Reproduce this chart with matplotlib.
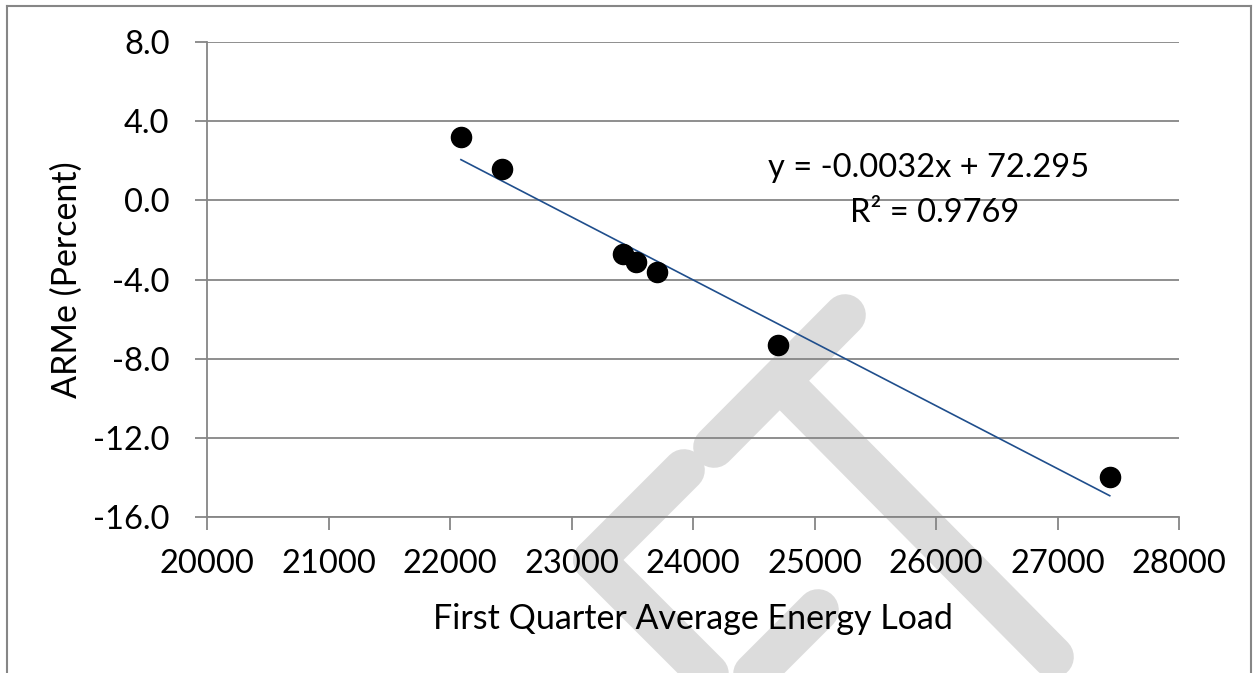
import numpy as np
import matplotlib
matplotlib.use("Agg")
import matplotlib.pyplot as plt
from matplotlib.lines import Line2D
from matplotlib.ticker import FormatStrFormatter, MultipleLocator

plt.rcParams['font.family'] = ['Lato', 'DejaVu Sans']
plt.rcParams['axes.unicode_minus'] = False

# donnees
charge = [22090, 22430, 23420, 23530, 23700, 24700, 27430]
arme = [3.2, 1.6, -2.7, -3.1, -3.6, -7.3, -14.0]
texte_eq = "y = -0.0032x + 72.295"
texte_r2 = "R² = 0.9769"
titre_x = "First Quarter Average Energy Load"
titre_y = "ARMe (Percent)"

W, H = 1257, 673
gris = '#868686'

fig = plt.figure(figsize=(W / 100, H / 100), dpi=100)
ax = fig.add_axes([207 / W, 1 - 517 / H, (1179 - 207) / W, (517 - 42) / H])
ax.set_facecolor('none')

# pixels -> fraction de figure
def px(x, y):
    return x / W, 1 - y / H

# filigrane (ET en biais)
traits = [
    [(714, 447), (845, 315)],
    [(780, 381), (1053, 657)],
    [(684, 470), (594, 560)],
    [(594, 560), (745, 711)],
    [(818, 610), (750, 678)],
]
for t in traits:
    (x0, y0), (x1, y1) = px(*t[0]), px(*t[1])
    fig.add_artist(Line2D([x0, x1], [y0, y1], transform=fig.transFigure,
                          color='#dcdcdc', lw=30, solid_capstyle='round',
                          zorder=-5))

# cadre du graphique
for (a, b) in [((7, 700), (7, 6)), ((7, 6), (1251, 6)), ((1251, 6), (1251, 700))]:
    (x0, y0), (x1, y1) = px(*a), px(*b)
    fig.add_artist(Line2D([x0, x1], [y0, y1], transform=fig.transFigure,
                          color=gris, lw=1.5, zorder=-4))

# points et droite de tendance
ax.plot(charge, arme, 'o', color='black', markersize=14.5, zorder=4)
a, b = np.polyfit(charge, arme, 1)
xt = np.array([min(charge), max(charge)])
ax.plot(xt, a * xt + b, color='#1f4e8c', lw=1.2, zorder=3)

fig.text(*px(929, 168), texte_eq, ha='center', va='center', fontsize=23.5)
fig.text(*px(935, 213), texte_r2, ha='center', va='center', fontsize=23.5)

ax.set_xlim(20000, 28000)
ax.set_ylim(-16, 8)
ax.xaxis.set_major_locator(MultipleLocator(1000))
ax.yaxis.set_major_locator(MultipleLocator(4))
ax.yaxis.set_major_formatter(FormatStrFormatter('%.1f'))
ax.grid(axis='y', color=gris, lw=1.3, zorder=1)
ax.set_axisbelow(True)

for s in ['top', 'right']:
    ax.spines[s].set_visible(False)
for s in ['left', 'bottom']:
    ax.spines[s].set_color(gris)
    ax.spines[s].set_linewidth(1.3)

ax.tick_params(axis='both', direction='out', length=9, width=1.3, color=gris,
               labelsize=23.5)
ax.tick_params(axis='y', pad=18)
ax.tick_params(axis='x', pad=14)
ax.set_xlabel(titre_x, fontsize=24.5, labelpad=17)
ax.set_ylabel(titre_y, fontsize=24.5, labelpad=7)

fig.savefig('out.png', dpi=100)
